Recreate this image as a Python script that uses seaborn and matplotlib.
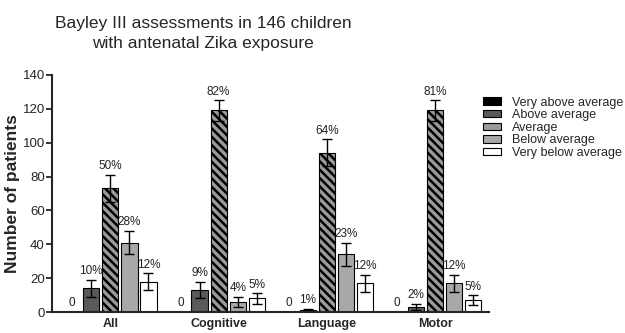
import pandas as pd
import matplotlib.pyplot as plt
import seaborn as sns

domains = ['All', 'Cognitive', 'Language', 'Motor']
levels = ['Very above average', 'Above average', 'Average', 'Below average', 'Very below average']

counts = {
    'Very above average': [0, 0, 0, 0],
    'Above average': [14, 13, 1, 3],
    'Average': [73, 119, 94, 119],
    'Below average': [41, 6, 34, 17],
    'Very below average': [18, 8, 17, 7],
}
errors = {
    'Very above average': [0, 0, 0, 0],
    'Above average': [5, 5, 1, 2],
    'Average': [8, 6, 8, 6],
    'Below average': [7, 3, 7, 5],
    'Very below average': [5, 3, 5, 3],
}
labels = {
    'Very above average': ['0', '0', '0', '0'],
    'Above average': ['10%', '9%', '1%', '2%'],
    'Average': ['50%', '82%', '64%', '81%'],
    'Below average': ['28%', '4%', '23%', '12%'],
    'Very below average': ['12%', '5%', '12%', '5%'],
}
colors = ['#000000', '#5a5a5a', '#9a9a9a', '#a8a8a8', '#ffffff']

rows = []
for lvl in levels:
    for d, v in zip(domains, counts[lvl]):
        rows.append({'domain': d, 'level': lvl, 'n': v})
df = pd.DataFrame(rows)

sns.set_style('ticks')
plt.rcParams['font.family'] = ['Liberation Sans', 'DejaVu Sans']
plt.rcParams['hatch.linewidth'] = 1.8

fig = plt.figure(figsize=(6.25, 3.33), dpi=100)
ax = fig.add_axes([0.083, 0.063, 0.70, 0.712])

sns.barplot(data=df, x='domain', y='n', hue='level', order=domains, hue_order=levels,
            palette=colors, edgecolor='black', linewidth=0.8, width=0.88, gap=0.15,
            errorbar=None, ax=ax, legend=True)

for i, lvl in enumerate(levels):
    cont = ax.containers[i]
    for j, bar in enumerate(cont):
        cx = bar.get_x() + bar.get_width() / 2
        h = bar.get_height()
        if lvl == 'Average':
            bar.set_hatch('\\' * 4)
        e = errors[lvl][j]
        if e > 0:
            ax.errorbar(cx, h, yerr=e, color='black', capsize=3.5, elinewidth=1, capthick=1)
        top = h + e
        ax.text(cx, top + 1.5, labels[lvl][j], ha='center', va='bottom', fontsize=8.5, color='#222222')

ax.set_ylim(0, 140)
ax.set_yticks(range(0, 141, 20))
ax.set_xlim(-0.54, 3.5)
ax.set_xlabel('')
ax.set_ylabel('Number of patients', fontsize=12.5, fontweight='bold', labelpad=2)
ax.tick_params(axis='y', labelsize=9.5, width=1.3, length=4, pad=1)
ax.tick_params(axis='x', labelsize=9, width=0, length=0, pad=4)
for t in ax.get_xticklabels():
    t.set_fontweight('bold')
for s in ['left', 'bottom']:
    ax.spines[s].set_linewidth(1.5)
sns.despine(ax=ax)

leg = ax.legend(loc='upper left', bbox_to_anchor=(0.975, 0.93), frameon=False, fontsize=9,
                handlelength=1.4, handleheight=0.55, labelspacing=0.05, handletextpad=0.9,
                borderaxespad=0)
for h in leg.legend_handles:
    h.set_edgecolor('black')

fig.text(0.325, 0.9, 'Bayley III assessments in 146 children\nwith antenatal Zika exposure',
         ha='center', va='center', fontsize=12.5, linespacing=1.4)

fig.savefig('out.png', dpi=100)
